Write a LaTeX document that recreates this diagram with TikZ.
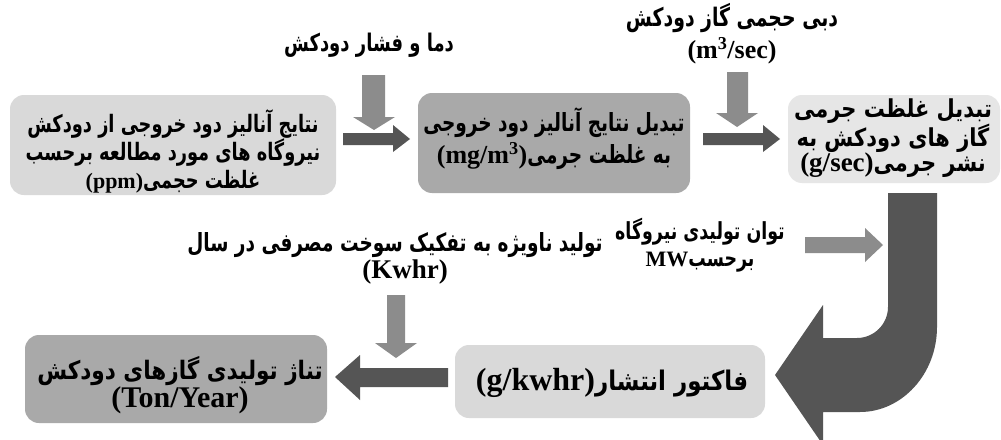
\documentclass[tikz,border=0pt]{standalone}
\usepackage{fontspec}
\TeXXeTstate=1
\newfontfamily\faA[Script=Arabic,FakeStretch=0.74]{DejaVu Sans}
\newfontfamily\faB[Script=Arabic,FakeStretch=0.85]{DejaVu Sans}
\newfontfamily\lat{Liberation Serif}
\newcommand\RL[1]{\beginR#1\endR}
\newcommand\LT[2][26]{\beginL{\lat\bfseries\fontsize{#1}{#1}\selectfont #2}\endL}
\definecolor{dk}{HTML}{555555}
\definecolor{md}{HTML}{8C8C8C}
\definecolor{bA}{HTML}{D9D9D9}
\definecolor{bB}{HTML}{A9A9A9}
\definecolor{bC}{HTML}{E6E6E6}
\tikzset{
  box/.style={rounded corners=14pt, inner sep=0pt},
  txt/.style={inner sep=0pt, align=center, text=black},
}
\begin{document}
\begin{tikzpicture}[x=1pt,y=-1pt]
\useasboundingbox (0,0) rectangle (1001,439);
\fill[white] (0,0) rectangle (1001,439);
% boxes
\node[box, fill=bA, minimum width=326pt, minimum height=100pt] (b1) at (173,145) {};
\node[box, fill=bB, minimum width=272pt, minimum height=100pt] (b2) at (554,143) {};
\node[box, fill=bC, minimum width=212pt, minimum height=88pt] (b3) at (894,139) {};
\node[box, fill=bA, minimum width=310pt, minimum height=73pt] (b4) at (610,381.5) {};
\node[box, fill=bB, minimum width=302pt, minimum height=88pt] (b5) at (176,379) {};
% box texts
\node[txt, font=\faA\bfseries\fontsize{24}{28}\selectfont] (b1t) at (173,151)
  {\RL{نتایج آنالیز دود خروجی از دودکش}\\\RL{نیروگاه های مورد مطالعه برحسب}\\\RL{غلظت حجمی\LT[22]{(ppm)}}};
\node[txt, font=\faA\bfseries\fontsize{25}{32}\selectfont] (b2t) at (554,139)
  {\RL{تبدیل نتایج آنالیز دود خروجی}\\\RL{به غلظت جرمی\LT{(mg/m\textsuperscript{3})}}};
\node[txt, font=\faB\bfseries\fontsize{24.7}{25}\selectfont] (b3t) at (893,138)
  {\RL{تبدیل غلظت جرمی}\\\RL{گاز های دودکش به}\\\RL{نشر جرمی\LT[27]{(g/sec)}}};
\node[txt, font=\faB\bfseries\fontsize{27}{30}\selectfont] (b4t) at (612,383)
  {\RL{فاکتور انتشار\LT[32]{(g/kwhr)}}};
\node[txt, font=\faB\bfseries\fontsize{25.4}{28}\selectfont] (b5t) at (180,385)
  {\RL{تناژ تولیدی گازهای دودکش}\\\LT[30]{(Ton/Year)}};
% labels
\node[txt, font=\faA\bfseries\fontsize{24.3}{28}\selectfont] (t1) at (369,45) {\RL{دما و فشار دودکش}};
\node[txt, font=\faA\bfseries\fontsize{25.5}{32}\selectfont] (t2) at (732,34) {\RL{دبی حجمی گاز دودکش}\\\LT{(m\textsuperscript{3}/sec)}};
\node[txt, font=\faA\bfseries\fontsize{25}{27}\selectfont] (t3) at (395,258) {\RL{تولید ناویژه به تفکیک سوخت مصرفی در سال}\\\hspace*{20pt}\LT[27]{(Kwhr)}};
\node[txt, font=\faA\bfseries\fontsize{23.5}{27}\selectfont] (t4) at (700,245) {\RL{توان تولیدی نیروگاه}\\\RL{برحسب\LT[22]{MW}}};
% block arrows
\fill[md] (362,75)--(385,75)--(385,117)--(395,117)--(374,130)--(353,117)--(362,117)--cycle;
\fill[dk] (343,133)--(393,133)--(393,125)--(410,139)--(393,152)--(393,145)--(343,145)--cycle;
\fill[md] (727,72)--(748,72)--(748,113)--(758,113)--(737,127)--(716,113)--(727,113)--cycle;
\fill[dk] (703,133)--(763,133)--(763,125)--(780,139)--(763,152)--(763,145)--(703,145)--cycle;
\fill[md] (805,237)--(865,237)--(865,228)--(883,245)--(865,262)--(865,253)--(805,253)--cycle;
\fill[md] (387,295)--(405,295)--(405,343)--(417,343)--(396,358)--(375,343)--(387,343)--cycle;
\fill[dk] (448,368)--(360,368)--(360,355)--(335,377)--(360,400)--(360,387)--(448,387)--cycle;
% curved arrow
\fill[dk] (888,193)--(937,193)--(937,327) .. controls (937,374) and (902,412) .. (860,412)
  --(823,412)--(823,445)--(775,375)--(823,305)--(823,338)--(857,338)
  .. controls (874,338) and (888,324) .. (888,307)--cycle;
\end{tikzpicture}
\end{document}
